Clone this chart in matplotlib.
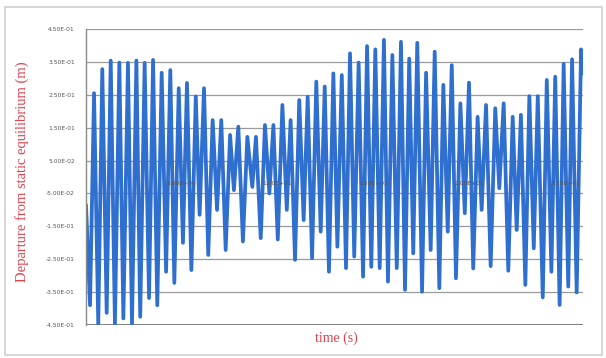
import matplotlib
matplotlib.use("Agg")
import matplotlib.pyplot as plt
from matplotlib.patches import Rectangle

# time (s) of each read extreme of the oscillation
time_s = [0.00, 0.21, 0.42, 0.64, 0.85, 1.08, 1.29, 1.51, 1.74, 1.95,
          2.19, 2.40, 2.63, 2.83, 3.06, 3.29, 3.50, 3.72, 3.95, 4.18,
          4.40, 4.61, 4.84, 5.06, 5.27, 5.50, 5.73, 5.93, 6.16, 6.38,
          6.61, 6.84, 7.06, 7.29, 7.52, 7.72, 7.95, 8.19, 8.42, 8.68,
          8.87, 9.12, 9.34, 9.57, 9.78, 10.01, 10.25, 10.48, 10.68, 10.91,
          11.13, 11.36, 11.57, 11.80, 12.02, 12.25, 12.46, 12.68, 12.91, 13.12,
          13.35, 13.57, 13.78, 14.00, 14.23, 14.46, 14.67, 14.89, 15.10, 15.33,
          15.55, 15.76, 15.99, 16.22, 16.44, 16.65, 16.87, 17.08, 17.29, 17.54,
          17.75, 17.99, 18.20, 18.44, 18.65, 18.88, 19.09, 19.31, 19.54, 19.77,
          19.99, 20.21, 20.44, 20.65, 20.88, 21.12, 21.36, 21.57, 21.80, 22.04,
          22.27, 22.48, 22.70, 22.93, 23.14, 23.37, 23.58, 23.84, 24.05, 24.29,
          24.49, 24.72, 24.93, 25.17, 25.37, 25.61, 25.84, 25.92]

# departure from static equilibrium (m)
departure_m = [-0.085, -0.390, 0.255, -0.448, 0.328, -0.413, 0.354, -0.448, 0.348, -0.430,
               0.347, -0.447, 0.354, -0.425, 0.347, -0.368, 0.356, -0.390, 0.317, -0.288,
               0.325, -0.322, 0.270, -0.200, 0.286, -0.283, 0.245, -0.115, 0.270, -0.237,
               0.173, -0.100, 0.173, -0.222, 0.128, -0.040, 0.153, -0.196, 0.122, -0.030,
               0.122, -0.186, 0.158, -0.050, 0.158, -0.190, 0.219, -0.100, 0.173, -0.252,
               0.234, -0.131, 0.244, -0.247, 0.290, -0.166, 0.275, -0.288, 0.315, -0.212,
               0.310, -0.277, 0.376, -0.242, 0.348, -0.303, 0.398, -0.273, 0.388, -0.277,
               0.417, -0.318, 0.371, -0.277, 0.411, -0.343, 0.360, -0.232, 0.408, -0.349,
               0.317, -0.222, 0.381, -0.338, 0.280, -0.166, 0.340, -0.308, 0.224, -0.110,
               0.287, -0.278, 0.183, -0.100, 0.219, -0.271, 0.209, -0.034, 0.224, -0.285,
               0.183, -0.161, 0.189, -0.328, 0.246, -0.217, 0.246, -0.366, 0.295, -0.288,
               0.305, -0.389, 0.344, -0.333, 0.358, -0.351, 0.388, 0.315]

y_ticks = [0.45, 0.35, 0.25, 0.15, 0.05, -0.05, -0.15, -0.25, -0.35, -0.45]
y_tick_labels = ["4.50E-01", "3.50E-01", "2.50E-01", "1.50E-01", "5.00E-02",
                 "-5.00E-02", "-1.50E-01", "-2.50E-01", "-3.50E-01", "-4.50E-01"]
x_ticks = [5, 10, 15, 20, 25]
x_tick_labels = ["5.00E+00", "1.00E+01", "1.50E+01", "2.00E+01", "2.50E+01"]

fig = plt.figure(figsize=(6.06, 3.58), dpi=100)
fig.patch.set_facecolor("white")
fig.patches.append(Rectangle((5/606, 3/358), 597/606, 348/358, transform=fig.transFigure,
                             fill=False, edgecolor="#cfcfcf", linewidth=1.2))

ax = fig.add_axes([86/606, 1-325/358, 497/606, 296/358])
for s in ["top", "right"]:
    ax.spines[s].set_visible(False)
ax.spines["left"].set_color("#8a8a8a")
ax.spines["left"].set_linewidth(1.0)
ax.spines["bottom"].set_position(("data", 0))
ax.spines["bottom"].set_visible(False)

ax.plot(time_s, departure_m, color="#2f6fcf", linewidth=2.7, zorder=2,
        solid_joinstyle="round", solid_capstyle="round")
for yt in y_ticks:
    ax.axhline(yt, color="#9a9a9a", linewidth=0.9, zorder=1)
ax.axhline(y_ticks[-1], color="#7a7a7a", linewidth=1.3, zorder=1)

ax.set_xlim(0, 25.94)
ax.set_ylim(-0.45, 0.45)
ax.set_axisbelow(False)

ax.set_yticks(y_ticks)
ax.set_yticklabels(y_tick_labels, fontsize=4.3, color="#555555")
ax.set_xticks(x_ticks)
ax.set_xticklabels(x_tick_labels, fontsize=4.3, color="#555555")
ax.tick_params(axis="y", length=0, pad=8)
ax.tick_params(axis="x", length=0, pad=3)

fig.text(22/606, 1-172/358, "Departure from static equilibrium (m)", rotation=90,
         ha="center", va="center", fontsize=10.5, color="#e0404c",
         family="Liberation Serif")
fig.text(336/606, 1-338/358, "time (s)", ha="center", va="center", fontsize=10,
         color="#e0404c", family="Liberation Serif")

fig.savefig("out.png", dpi=100, facecolor="white")
